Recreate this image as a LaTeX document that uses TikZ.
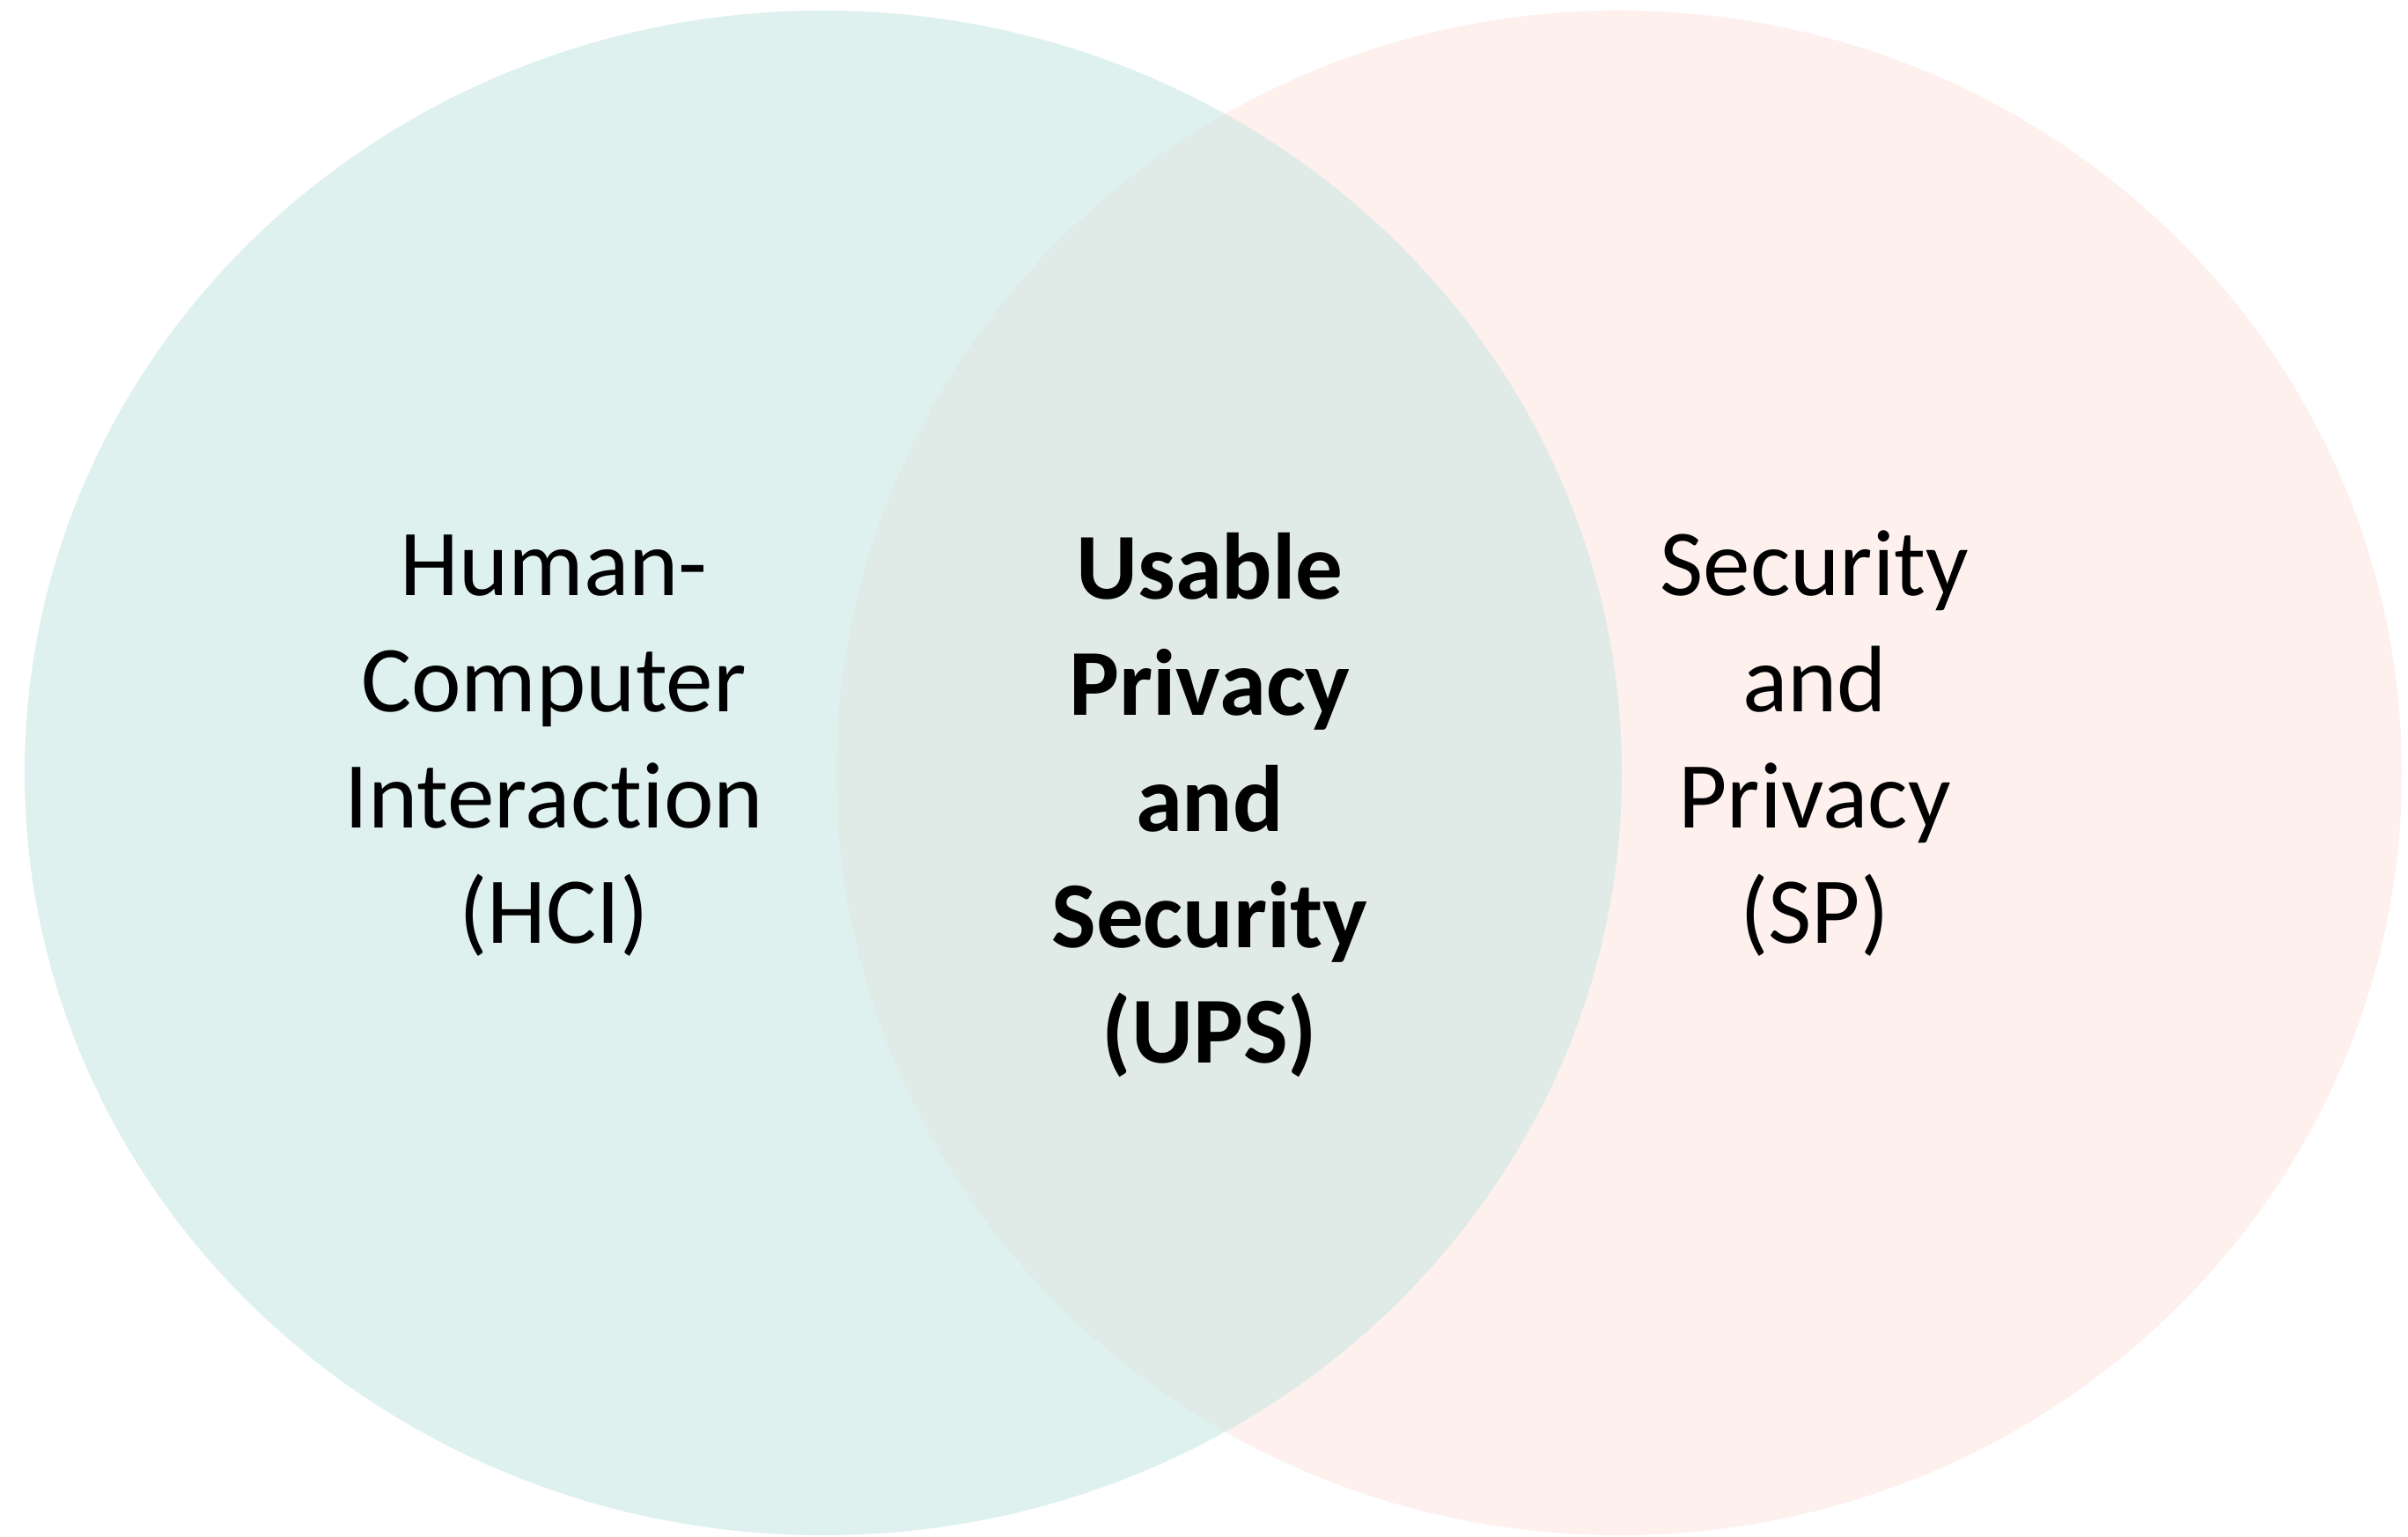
\documentclass[tikz,border=0pt]{standalone}
\usepackage{fontspec}
\setmainfont{Carlito}[Ligatures=NoCommon]
\usepackage{tikz}
\usetikzlibrary{positioning}
\definecolor{hcifill}{RGB}{222,241,239}
\definecolor{spfill}{RGB}{253,240,237}
\definecolor{upsfill}{RGB}{224,235,231}
\tikzset{font=\fontsize{30.5}{37.5}\selectfont}
\tikzstyle{field} = [align=center, anchor=base, inner sep=0pt, text=black]
\tikzstyle{core} = [field, font=\fontsize{30.5}{37.5}\selectfont\bfseries]

\begin{document}
\begin{tikzpicture}
		\useasboundingbox (0,0) rectangle (27.35,17.46);

		% the two fields
		\fill [spfill] (18.39,8.68) ellipse [x radius=8.89, y radius=8.66];
		\fill [hcifill] (9.35,8.68) ellipse [x radius=9.07, y radius=8.66];
		\begin{scope}
			\clip (18.39,8.68) ellipse [x radius=8.89, y radius=8.66];
			\fill [upsfill] (9.35,8.68) ellipse [x radius=9.07, y radius=8.66];
		\end{scope}

		% anchor base = last line
		\node [field] (hci) at (6.29,6.74) {Human-\\Computer\\Interaction\\(HCI)};
		\node [core] (ups) at (13.74,5.38) {Usable\\Privacy\\and\\Security\\(UPS)};
		\node [field] (sp) at (20.61,6.74) {Security\\and\\Privacy\\(SP)};
	\end{tikzpicture}
\end{document}
